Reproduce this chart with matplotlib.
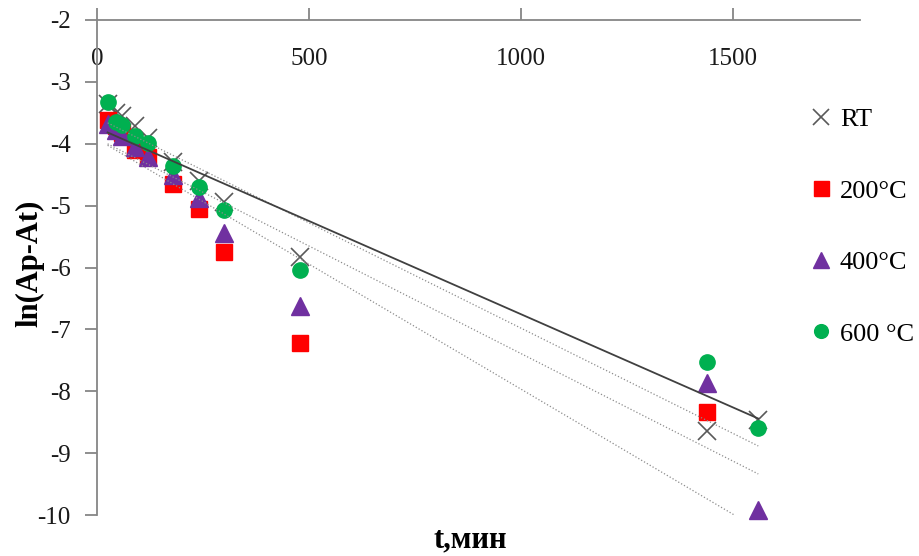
import numpy as np
import matplotlib
matplotlib.use('Agg')
import matplotlib.pyplot as plt

# time, minutes
t = [25, 45, 60, 90, 120, 180, 240, 300, 480, 1440, 1560]

# ln(Ap-At) for each annealing temperature
ln_rt = [-3.35, -3.50, -3.55, -3.72, -3.90, -4.30, -4.60, -4.94, -5.83, -8.65, -8.46]
ln_200 = [-3.62, -3.72, -3.82, -4.10, -4.22, -4.65, -5.05, -5.75, -7.22, -8.33, -11.03]
ln_400 = [-3.68, -3.78, -3.88, -4.05, -4.22, -4.50, -4.88, -5.44, -6.62, -7.87, -9.92]
ln_600 = [-3.33, -3.65, -3.70, -3.87, -3.99, -4.36, -4.70, -5.07, -6.04, -7.53, -8.60]

labels = ['RT', '200°C', '400°C', '600 °C']
x_ticks = [0, 500, 1000, 1500]
y_ticks = [-2, -3, -4, -5, -6, -7, -8, -9, -10]

plt.rcParams['font.family'] = ['Liberation Serif', 'DejaVu Serif']
plt.rcParams['axes.unicode_minus'] = False

fig = plt.figure(figsize=(9.2, 5.56), dpi=100)
ax = fig.add_axes([97 / 920, 1 - 515 / 556, (860 - 97) / 920, (515 - 20) / 556])
ax.set_xlim(0, 1800)
ax.set_ylim(-10, -2)

styles = [
    dict(marker='x', color='#595959', ms=13, mew=1.2, ls='none'),
    dict(marker='s', color='#ff0000', ms=12, ls='none'),
    dict(marker='^', color='#7030a0', ms=13, ls='none'),
    dict(marker='o', color='#00b050', ms=11, ls='none'),
]
trend = [
    dict(color='#8c8c8c', lw=0.9, ls=':'),
    dict(color='#8c8c8c', lw=0.9, ls=':'),
    dict(color='#8c8c8c', lw=0.9, ls=':'),
    dict(color='#404040', lw=1.3, ls='-'),
]

series = [ln_rt, ln_200, ln_400, ln_600]
tt = np.array(t, dtype=float)
for y, lab, st in zip(series, labels, styles):
    y = np.array(y)
    shown = np.where(y >= -10, y, np.nan)
    ax.plot(tt, shown, label=lab, clip_on=False, zorder=2, **st)

for y, st in zip(series, trend):
    k = np.polyfit(tt, y, 1)
    xs = np.array([tt.min(), tt.max()])
    ax.plot(xs, np.polyval(k, xs), zorder=3, **st)

# x axis drawn along the top edge, ticks pointing up, labels beneath
for s in ['top', 'right']:
    ax.spines[s].set_visible(False)
ax.spines['bottom'].set_position(('data', -2))
for s in ['bottom', 'left']:
    ax.spines[s].set_color('#868686')
    ax.spines[s].set_linewidth(1.3)

ax.set_xticks(x_ticks)
ax.set_yticks(y_ticks)
ax.tick_params(axis='x', direction='in', length=9, width=1.3, color='#868686',
               labelsize=18, pad=20, labelcolor='#1a1a1a')
ax.tick_params(axis='y', direction='out', length=9, width=1.3, color='#868686',
               labelsize=18, pad=10, labelcolor='#1a1a1a')

fig.text(30 / 920, 1 - 263 / 556, 'ln(Ap-At)', rotation=90, fontsize=22,
         fontweight='bold', ha='center', va='center')
fig.text(470 / 920, 1 - 540 / 556, 't,мин', fontsize=22, fontweight='bold',
         ha='center', va='center')

fig.legend(loc='upper left', bbox_to_anchor=(787 / 920, 1 - 84 / 556),
           frameon=False, fontsize=19, handlelength=0.8, handletextpad=0.3,
           labelspacing=1.82, markerscale=0.9)

fig.savefig('out.png', dpi=100)
